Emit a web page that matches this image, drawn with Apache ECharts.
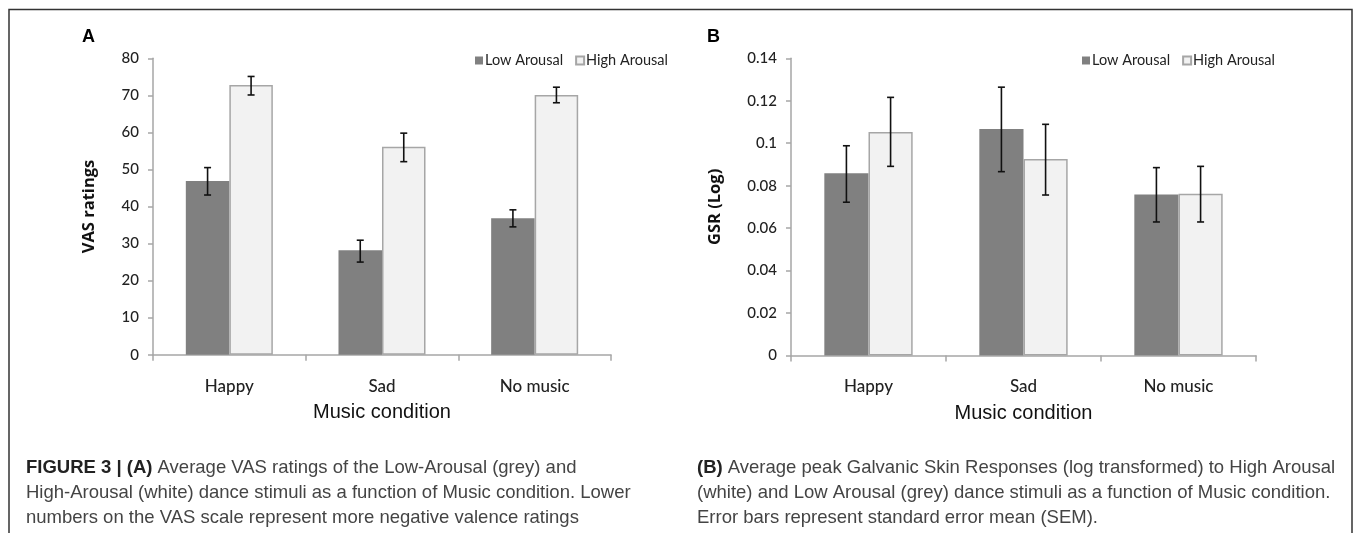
<!DOCTYPE html>
<html><head><meta charset="utf-8">
<script src="https://cdn.jsdelivr.net/npm/echarts@6/dist/echarts.min.js"></script>
<style>html,body{margin:0;padding:0;background:#fff}#c{width:1355px;height:533px}</style>
</head><body><div id="c"></div>
<script>
const categories = ['Happy', 'Sad', 'No music'];
const seriesNames = ['Low Arousal', 'High Arousal'];
// Panel A: VAS ratings
const vasLow = [46.9, 28.2, 36.8];
const vasLowErrLo = [43.1, 25.0, 34.5];
const vasLowErrHi = [50.5, 30.9, 39.1];
const vasHigh = [72.8, 56.1, 70.1];
const vasHighErrLo = [70.1, 52.1, 68.0];
const vasHighErrHi = [75.1, 59.8, 72.2];
// Panel B: GSR (Log)
const gsrLow = [0.0858, 0.1067, 0.0758];
const gsrLowErrLo = [0.0722, 0.0866, 0.0629];
const gsrLowErrHi = [0.0988, 0.1264, 0.0885];
const gsrHigh = [0.1053, 0.0926, 0.0762];
const gsrHighErrLo = [0.0891, 0.0756, 0.0629];
const gsrHighErrHi = [0.1216, 0.1089, 0.0891];
const vasTicks = {min: 0, max: 80, interval: 10};
const gsrTicks = {min: 0, max: 0.14, interval: 0.02};
const captionA = [
  ['FIGURE 3 | (A)', ' Average VAS ratings of the Low-Arousal (grey) and'],
  ['', 'High-Arousal (white) dance stimuli as a function of Music condition. Lower'],
  ['', 'numbers on the VAS scale represent more negative valence ratings']
];
const captionB = [
  ['(B)', ' Average peak Galvanic Skin Responses (log transformed) to High Arousal'],
  ['', '(white) and Low Arousal (grey) dance stimuli as a function of Music condition.'],
  ['', 'Error bars represent standard error mean (SEM).']
];

const DARK = '#808080', LIGHT = '#f2f2f2', LIGHTBORDER = '#a6a6a6', AXIS = '#a6a6a6';
const CAT_GAP = 0.43;
const tickFont = {fontFamily: 'Lato', fontSize: 15, color: '#222', fontWeight: 500};

function errSeries(idx, lo, hi, side) {
  return {
    type: 'custom', xAxisIndex: idx, yAxisIndex: idx, z: 10, silent: true,
    data: categories.map((c, i) => [i, lo[i], hi[i]]),
    encode: {x: 0, y: [1, 2]},
    renderItem: function (params, api) {
      const band = api.size([1, 0])[0];
      const bw = band * (1 - CAT_GAP) / 2;
      const p1 = api.coord([api.value(0), api.value(1)]);
      const p2 = api.coord([api.value(0), api.value(2)]);
      const x = p1[0] + side * bw / 2;
      const cap = 3.5;
      const st = {stroke: '#111', lineWidth: 1.6};
      return {type: 'group', children: [
        {type: 'line', shape: {x1: x, y1: p1[1], x2: x, y2: p2[1]}, style: st},
        {type: 'line', shape: {x1: x - cap, y1: p1[1], x2: x + cap, y2: p1[1]}, style: st},
        {type: 'line', shape: {x1: x - cap, y1: p2[1], x2: x + cap, y2: p2[1]}, style: st}
      ]};
    }
  };
}

function barSeries(idx, name, data, dark) {
  return {
    type: 'bar', name: name, xAxisIndex: idx, yAxisIndex: idx,
    data: data, barGap: 0, barCategoryGap: (CAT_GAP * 100) + '%',
    itemStyle: dark ? {color: DARK} : {color: LIGHT, borderColor: LIGHTBORDER, borderWidth: 1.5},
    emphasis: {disabled: true}
  };
}

function xAxis(idx) {
  return {
    type: 'category', gridIndex: idx, data: categories,
    axisLine: {lineStyle: {color: AXIS, width: 1.5}},
    axisTick: {show: true, length: 6, lineStyle: {color: AXIS, width: 1.5}},
    axisLabel: Object.assign({}, tickFont, {margin: 23, fontSize: 17}),
    name: 'Music condition', nameLocation: 'middle', nameGap: 48,
    nameTextStyle: {fontFamily: 'Liberation Sans', fontSize: 20, color: '#111'}
  };
}
function yAxis(idx, ticks, name, gap, fmt) {
  return {
    type: 'value', gridIndex: idx, min: ticks.min, max: ticks.max, interval: ticks.interval,
    axisLine: {show: true, lineStyle: {color: AXIS, width: 1.5}},
    axisTick: {show: true, length: 5, lineStyle: {color: AXIS, width: 1.5}},
    splitLine: {show: false},
    axisLabel: Object.assign({margin: 14, formatter: fmt}, tickFont),
    name: name, nameLocation: 'middle', nameRotate: 90, nameGap: gap,
    nameTextStyle: {fontFamily: 'Open Sans', fontSize: 16.5, fontWeight: 'bold', color: '#111'}
  };
}

function captionGraphic(lines, left) {
  return lines.map((ln, i) => ({
    type: 'text', left: left, top: 458 + i * 25,
    style: {
      text: (ln[0] ? '{b|' + ln[0] + '}' : '') + '{n|' + ln[1] + '}',
      rich: {
        b: {fontFamily: 'Liberation Sans', fontWeight: 'bold', fontSize: 18.5, fill: '#222'},
        n: {fontFamily: 'Liberation Sans', fontSize: 18.5, fill: '#444'}
      }
    }
  }));
}

const chart = echarts.init(document.getElementById('c'), null, {renderer: 'canvas'});
chart.setOption({
  animation: false,
  backgroundColor: '#fff',
  grid: [
    {left: 153, right: 744, top: 58.3, bottom: 178.3},
    {left: 791, right: 99, top: 58.3, bottom: 177.5}
  ],
  legend: [
    {data: seriesNames, left: 470, top: 48, itemWidth: 8, itemHeight: 8, itemGap: 12,
     icon: 'rect', textStyle: {fontFamily: 'Lato', fontSize: 14.5, color: '#222', padding: [0, 0, 0, -3]}},
    {data: seriesNames, left: 1077, top: 48, itemWidth: 8, itemHeight: 8, itemGap: 12,
     icon: 'rect', textStyle: {fontFamily: 'Lato', fontSize: 14.5, color: '#222', padding: [0, 0, 0, -3]}}
  ],
  xAxis: [xAxis(0), xAxis(1)],
  yAxis: [
    yAxis(0, vasTicks, 'VAS ratings', 55, v => String(v)),
    yAxis(1, gsrTicks, 'GSR (Log)', 67, v => String(+v.toFixed(2)))
  ],
  series: [
    barSeries(0, seriesNames[0], vasLow, true),
    barSeries(0, seriesNames[1], vasHigh, false),
    errSeries(0, vasLowErrLo, vasLowErrHi, -1),
    errSeries(0, vasHighErrLo, vasHighErrHi, 1),
    barSeries(1, seriesNames[0], gsrLow, true),
    barSeries(1, seriesNames[1], gsrHigh, false),
    errSeries(1, gsrLowErrLo, gsrLowErrHi, -1),
    errSeries(1, gsrHighErrLo, gsrHighErrHi, 1)
  ],
  graphic: [
    {type: 'polyline', shape: {points: [[9, 545], [9, 9.5], [1352, 9.5], [1352, 545]]},
     style: {stroke: '#333', lineWidth: 1.5, fill: null}},
    {type: 'text', left: 82, top: 28, style: {text: 'A', fontFamily: 'Liberation Sans', fontWeight: 'bold', fontSize: 18, fill: '#000'}},
    {type: 'text', left: 707, top: 28, style: {text: 'B', fontFamily: 'Liberation Sans', fontWeight: 'bold', fontSize: 18, fill: '#000'}}
  ].concat(captionGraphic(captionA, 26), captionGraphic(captionB, 697))
});
</script></body></html>
